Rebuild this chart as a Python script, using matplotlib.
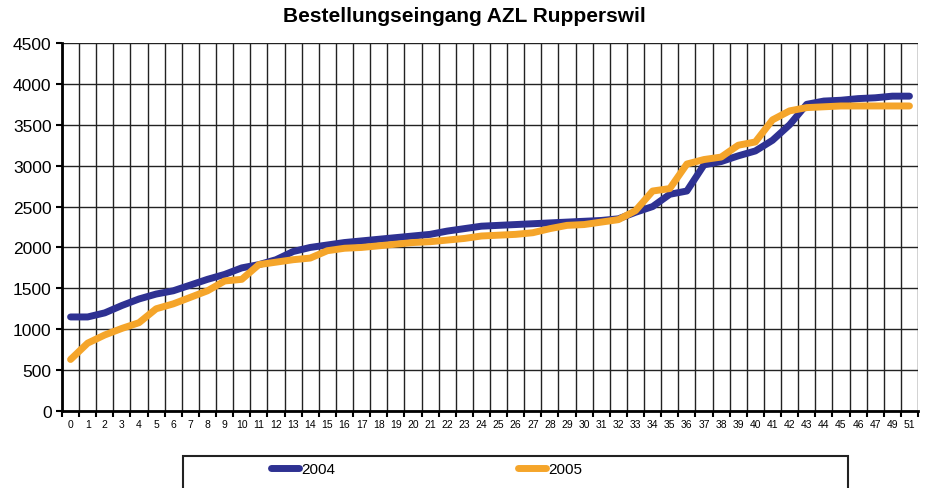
import matplotlib.pyplot as plt
from matplotlib.patches import Rectangle

plt.rcParams['font.family'] = ['Liberation Sans', 'DejaVu Sans']

weeks = [str(i) for i in range(48)] + ['49', '51']

sales_2004 = [1150, 1150, 1200, 1290, 1370, 1430, 1470, 1540, 1610, 1670,
              1750, 1790, 1850, 1950, 2000, 2030, 2060, 2080, 2100, 2120,
              2140, 2160, 2200, 2230, 2260, 2270, 2280, 2290, 2300, 2310,
              2320, 2330, 2350, 2430, 2500, 2650, 2690, 3010, 3050, 3120,
              3180, 3310, 3500, 3750, 3790, 3800, 3820, 3830, 3850, 3850]

sales_2005 = [630, 830, 930, 1010, 1080, 1250, 1310, 1390, 1470, 1590,
              1610, 1790, 1820, 1850, 1870, 1960, 1990, 2000, 2020, 2040,
              2060, 2070, 2090, 2110, 2140, 2150, 2160, 2180, 2230, 2270,
              2280, 2310, 2340, 2450, 2690, 2720, 3020, 3075, 3105, 3250,
              3290, 3560, 3670, 3710, 3720, 3730, 3730, 3730, 3730, 3730]

fig = plt.figure(figsize=(9.28, 4.89), dpi=100)
ax = fig.add_axes([62/928, 1 - 412/489, 856/928, 368/489])

x = list(range(len(weeks)))
l1, = ax.plot(x, sales_2004, color='#2E3192', lw=5, solid_joinstyle='round',
              solid_capstyle='round', label='2004', zorder=3)
l2, = ax.plot(x, sales_2005, color='#F5A52A', lw=5, solid_joinstyle='round',
              solid_capstyle='round', label='2005', zorder=4)

ax.set_xlim(-0.5, len(weeks) - 0.5)
ax.set_ylim(0, 4500)
ax.set_yticks(range(0, 4501, 500))
ax.set_xticks(x)
ax.set_xticklabels(weeks, fontsize=7.5)
ax.set_xticks([i - 0.5 for i in range(len(weeks) + 1)], minor=True)
ax.tick_params(axis='x', which='major', length=0, pad=6)
ax.tick_params(axis='x', which='minor', length=4, width=1.5, direction='out')
ax.tick_params(axis='y', labelsize=12.5, length=4, width=1.5, direction='out')

ax.grid(True, axis='x', which='minor', color='#222222', lw=1)
ax.grid(True, axis='y', which='major', color='#222222', lw=1)
ax.grid(False, axis='x', which='major')
for s in ['top', 'right']:
    ax.spines[s].set_visible(False)
for s in ['left', 'bottom']:
    ax.spines[s].set_linewidth(2)

fig.text(0.5, 1 - 17/489, 'Bestellungseingang AZL Rupperswil', ha='center',
         va='center', fontsize=15, fontweight='bold')

fig.patches.append(Rectangle((183/928, -0.05), 665/928, 0.05 + 32/489,
                             transform=fig.transFigure, fill=False,
                             edgecolor='#222222', lw=1.5))
fig.legend(handles=[l1, l2], loc='center', bbox_to_anchor=(0.4596, 1 - 470/489),
           ncol=2, frameon=False, fontsize=11, handlelength=1.85,
           handletextpad=0.1, columnspacing=12)

fig.savefig('out.png', dpi=100)
